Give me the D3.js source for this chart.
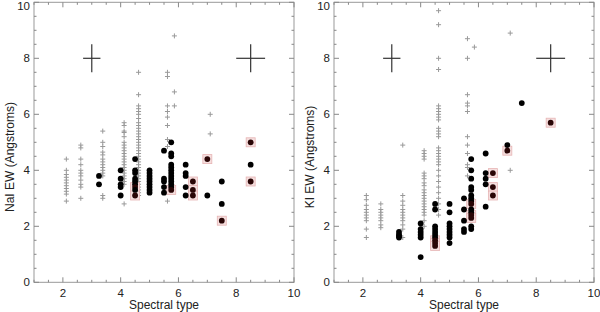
<!DOCTYPE html>
<html><head><meta charset="utf-8">
<script src="https://cdn.jsdelivr.net/npm/d3@7"></script>
<style>body{margin:0;background:#fff} text{font-family:"Liberation Sans",Arial,sans-serif}</style>
</head><body>
<script>
const W = 600, H = 312;

// x positions of the grey "+" columns (same in both panels)
const plusX = [2.12, 2.62, 3.38, 4.12, 4.62, 5.62, 5.86, 7.1];
const naiPlus = [
  [4.4, 4.0, 3.85, 3.75, 3.65, 3.55, 3.45, 3.35, 3.25, 3.15, 2.9],
  [4.9, 4.8, 4.4, 4.2, 4.0, 3.9, 3.8, 3.65, 3.5, 3.4, 3.0],
  [5.4, 5.0, 4.85, 4.65, 4.55, 4.4, 4.3, 4.2, 4.1, 4.0, 3.9, 3.8, 3.1, 3.0],
  [5.7, 5.6, 5.4, 5.35, 5.2, 5.0, 4.9, 4.8, 4.7, 4.6, 4.5, 4.4, 4.3, 4.2, 4.1, 4.0, 3.9, 3.8, 3.7, 3.6, 3.5, 2.8],
  [7.5, 6.7, 6.3, 6.2, 6.1, 6.0, 5.85, 5.7, 5.6, 5.5, 5.4, 5.3, 5.2, 5.1, 5.0, 4.9, 4.8, 4.7, 4.6, 4.5, 4.4, 4.3, 4.2, 4.1, 4.0, 3.9, 3.8, 3.7, 3.6, 3.5, 3.4, 3.3, 3.2, 3.1],
  [7.5, 7.35, 6.3, 6.1, 5.9, 5.6, 5.1, 4.85, 2.9],
  [8.8, 6.8, 6.3],
  [6.0, 5.3]
];
const kiPlus = [
  [3.1, 2.95, 2.75, 2.6, 2.5, 2.4, 2.3, 2.2, 1.9, 1.6],
  [2.8, 2.6, 2.5, 2.4, 2.3, 2.2, 2.05, 1.95],
  [4.9, 3.1, 2.9, 2.75, 2.6, 2.5, 2.4, 2.3, 2.2, 2.05, 1.9, 1.6],
  [4.7, 4.6, 4.5, 4.4, 3.9, 3.8, 3.7, 3.55, 3.45, 3.3, 3.2, 3.1, 3.0, 2.9, 2.8, 2.7, 2.6, 2.5, 2.4, 2.2, 2.0],
  [9.7, 9.2, 8.0, 7.6, 6.3, 6.2, 6.1, 6.0, 5.9, 5.8, 5.5, 5.4, 5.3, 5.2, 4.8, 4.7, 4.6, 4.5, 4.4, 4.3, 4.2, 4.0, 3.8, 3.6, 3.4, 3.2, 3.0, 2.8, 2.6, 2.4],
  [8.7, 8.0, 6.7, 6.4, 6.3, 6.1, 5.2, 4.9, 4.6, 4.2, 4.1, 3.8],
  [8.4],
  [8.9, 4.0]
];

// x positions of the black dot columns
const dotX = [3.25, 4.0, 4.5, 5.0, 5.5, 5.75, 6.25, 6.5, 7.0, 7.5, 8.5];
const naiDots = [
  [3.8, 3.5],
  [4.0, 3.7, 3.5, 3.4, 3.1],
  [4.4, 4.0, 3.9, 3.7, 3.6, 3.5, 3.4, 3.3, 3.1],
  [4.0, 3.9, 3.8, 3.7, 3.6, 3.5, 3.4, 3.3, 3.2],
  [4.7, 3.7, 3.6, 3.4, 3.2],
  [5.0, 4.6, 4.5, 4.2, 4.1, 4.0, 3.9, 3.8, 3.7, 3.6, 3.5, 3.4, 3.3],
  [4.2, 3.9, 3.8, 3.4, 3.1],
  [3.6, 3.3, 3.1],
  [4.4, 3.1],
  [3.6, 2.8, 2.2],
  [5.0, 4.2, 3.6]
];
const kiDots = [
  [1.8, 1.7, 1.65, 1.6],
  [2.1, 1.9, 1.8, 1.7, 1.6, 0.9],
  [2.8, 2.6, 2.0, 1.9, 1.8, 1.7, 1.6, 1.5, 1.4, 1.3],
  [2.8, 2.5, 2.1, 2.0, 1.9, 1.8, 1.7, 1.6, 1.4],
  [3.0, 2.6, 2.2, 1.9, 1.8],
  [4.4, 4.0, 3.7, 3.4, 3.3, 3.1, 3.0, 2.9, 2.8, 2.6, 2.5, 2.4, 2.3, 2.0, 1.9],
  [4.6, 3.9, 3.7, 3.5, 2.7],
  [3.9, 3.4, 3.1],
  [4.9, 4.7],
  [6.4],
  [5.7]
];
// dots drawn over a pink square
const naiPink = [[4.5, 3.4], [4.5, 3.1], [5.75, 3.3], [6.5, 3.6], [6.5, 3.3], [6.5, 3.1], [7.0, 4.4], [7.5, 2.2], [8.5, 5.0], [8.5, 3.6]];
const kiPink = [[4.5, 1.5], [4.5, 1.4], [4.5, 1.3], [5.75, 2.8], [5.75, 2.4], [5.75, 2.3], [6.5, 3.9], [6.5, 3.4], [6.5, 3.1], [7.0, 4.7], [8.5, 5.7]];

// typical error bars: [x, y, xerr, yerr]
const errBars = [[3, 8, 0.3, 0.5], [8.5, 8, 0.5, 0.5]];

const xTicks = [2, 4, 6, 8, 10];
const yTicks = [0, 2, 4, 6, 8, 10];

const svg = d3.select("body").append("svg").attr("width", W).attr("height", H);

function panel(ox, plusCols, dotCols, pink, ylabel) {
  const g = svg.append("g").attr("transform", `translate(${ox},0)`);
  const x = d3.scaleLinear().domain([1, 10]).range([34, 294]);
  const y = d3.scaleLinear().domain([0, 10]).range([282.3, 2.3]);

  // frame
  g.append("rect").attr("x", x(1)).attr("y", y(10)).attr("width", x(10) - x(1)).attr("height", y(0) - y(10))
    .attr("fill", "none").attr("stroke", "#999");

  // inward ticks on all sides
  const minorX = d3.range(1, 10.01, 0.5), minorY = d3.range(0, 10.01, 0.5);
  const tk = g.append("g").attr("stroke", "#888").attr("stroke-width", 1);
  minorX.forEach(v => {
    const L = xTicks.includes(v) ? 5 : 2.5;
    tk.append("line").attr("x1", x(v)).attr("x2", x(v)).attr("y1", y(0)).attr("y2", y(0) - L);
    tk.append("line").attr("x1", x(v)).attr("x2", x(v)).attr("y1", y(10)).attr("y2", y(10) + L);
  });
  minorY.forEach(v => {
    const L = yTicks.includes(v) ? 5 : 2.5;
    tk.append("line").attr("y1", y(v)).attr("y2", y(v)).attr("x1", x(1)).attr("x2", x(1) + L);
    tk.append("line").attr("y1", y(v)).attr("y2", y(v)).attr("x1", x(10)).attr("x2", x(10) - L);
  });

  g.selectAll(".xt").data(xTicks).enter().append("text")
    .attr("x", d => x(d)).attr("y", 296.5).attr("text-anchor", "middle")
    .attr("font-size", 11.5).attr("fill", "#222").text(d => d);
  g.selectAll(".yt").data(yTicks).enter().append("text")
    .attr("x", 30).attr("y", d => Math.max(y(d) + 4, 10)).attr("text-anchor", "end")
    .attr("font-size", 11.5).attr("fill", "#222").text(d => d);

  g.append("text").attr("x", (x(1) + x(10)) / 2).attr("y", 308.5).attr("text-anchor", "middle")
    .attr("font-size", 12).attr("fill", "#222").text("Spectral type");
  g.append("text").attr("transform", "translate(14,157) rotate(-90)")
    .attr("text-anchor", "middle").attr("font-size", 12).attr("fill", "#222").text(ylabel);

  // grey plus markers
  const plus = [];
  plusCols.forEach((col, i) => col.forEach(v => plus.push([plusX[i], v])));
  const pg = g.append("g").attr("stroke", "#999").attr("stroke-width", 1);
  pg.selectAll("path").data(plus).enter().append("path")
    .attr("d", d => `M${x(d[0]) - 2.5},${y(d[1])}h5M${x(d[0])},${y(d[1]) - 2.5}v5`);

  // error bar crosses
  const eg = g.append("g").attr("stroke", "#333").attr("stroke-width", 1.2);
  errBars.forEach(e => {
    eg.append("line").attr("x1", x(e[0] - e[2])).attr("x2", x(e[0] + e[2])).attr("y1", y(e[1])).attr("y2", y(e[1]));
    eg.append("line").attr("x1", x(e[0])).attr("x2", x(e[0])).attr("y1", y(e[1] - e[3])).attr("y2", y(e[1] + e[3]));
  });

  // pink squares behind flagged dots
  g.selectAll(".pk").data(pink).enter().append("rect")
    .attr("x", d => x(d[0]) - 4.5).attr("y", d => y(d[1]) - 4.5).attr("width", 9).attr("height", 9)
    .attr("fill", "#f5dede").attr("stroke", "#e6b4b4").attr("stroke-width", 0.8);

  const dots = [];
  dotCols.forEach((col, i) => col.forEach(v => dots.push([dotX[i], v])));
  const isPink = d => pink.some(p => p[0] === d[0] && p[1] === d[1]);
  g.selectAll(".dt").data(dots).enter().append("circle")
    .attr("cx", d => x(d[0])).attr("cy", d => y(d[1])).attr("r", 2.9)
    .attr("fill", d => isPink(d) ? "#2a0606" : "#000");
}

panel(0, naiPlus, naiDots, naiPink, "NaI EW (Angstroms)");
panel(300, kiPlus, kiDots, kiPink, "KI EW (Angstroms)");
</script>
</body></html>
